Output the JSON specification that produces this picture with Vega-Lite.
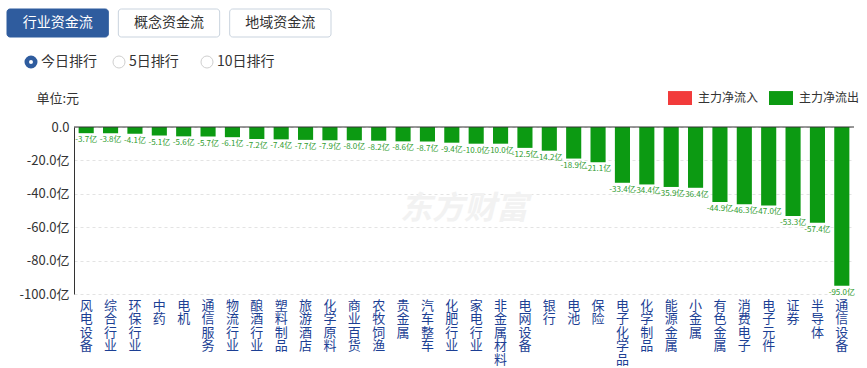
{
  "$schema": "https://vega.github.io/schema/vega-lite/v6.json",
  "padding": {"left": 6, "top": 8, "right": 0, "bottom": 0},
  "background": "#ffffff",
  "config": {
    "view": {"stroke": null},
    "font": "Noto Sans CJK SC",
    "axisY": {"labelOverlap": false}
  },
  "spacing": 10,
  "resolve": {"legend": {"color": "independent"}, "scale": {"color": "independent", "x": "independent", "y": "independent"}},
  "vconcat": [
    {
      "width": 324,
      "height": 28,
      "data": {"values": [{"b": "行业资金流"}, {"b": "概念资金流"}, {"b": "地域资金流"}]},
      "layer": [
        {
          "mark": {"type": "bar", "cornerRadius": 3, "strokeWidth": 1, "xOffset": -67, "x2Offset": -67},
          "encoding": {
            "x": {"field": "b", "type": "nominal", "sort": null, "axis": null, "scale": {"paddingInner": 0.09, "paddingOuter": 0}},
            "fill": {"condition": {"test": "datum.b === '行业资金流'", "value": "#2f5c9e"}, "value": "#ffffff"},
            "stroke": {"condition": {"test": "datum.b === '行业资金流'", "value": "#2f5c9e"}, "value": "#c9d3de"}
          }
        },
        {
          "mark": {"type": "text", "fontSize": 14, "baseline": "middle", "xOffset": -67},
          "encoding": {
            "x": {"field": "b", "type": "nominal", "sort": null, "axis": null},
            "text": {"field": "b"},
            "color": {"condition": {"test": "datum.b === '行业资金流'", "value": "#ffffff"}, "value": "#333333"}
          }
        }
      ]
    },
    {
      "width": 264,
      "height": 24,
      "data": {"values": [{"r": "今日排行"}, {"r": "5日排行"}, {"r": "10日排行"}]},
      "layer": [
        {
          "mark": {"type": "point", "shape": "circle", "filled": false, "fill": "#ffffff", "xOffset": -87},
          "encoding": {
            "x": {"field": "r", "type": "nominal", "sort": null, "axis": null, "scale": {"paddingInner": 0, "paddingOuter": 0}},
            "stroke": {"condition": {"test": "datum.r === '今日排行'", "value": "#2f5c9e"}, "value": "#cfcfcf"},
            "strokeWidth": {"condition": {"test": "datum.r === '今日排行'", "value": 4.5}, "value": 1},
            "size": {"condition": {"test": "datum.r === '今日排行'", "value": 72}, "value": 144},
            "opacity": {"value": 1}
          }
        },
        {
          "mark": {"type": "text", "fontSize": 14, "align": "left", "baseline": "middle", "xOffset": -77, "color": "#333333"},
          "encoding": {
            "x": {"field": "r", "type": "nominal", "sort": null, "axis": null},
            "text": {"field": "r"}
          }
        }
      ]
    },
    {
      "width": 780,
      "height": 167,
      "data": {
        "values": [
          {"name": "风电设备", "v": -3.7, "type": "主力净流出"},
          {"name": "综合行业", "v": -3.8, "type": "主力净流出"},
          {"name": "环保行业", "v": -4.1, "type": "主力净流出"},
          {"name": "中药", "v": -5.1, "type": "主力净流出"},
          {"name": "电机", "v": -5.6, "type": "主力净流出"},
          {"name": "通信服务", "v": -5.7, "type": "主力净流出"},
          {"name": "物流行业", "v": -6.1, "type": "主力净流出"},
          {"name": "酿酒行业", "v": -7.2, "type": "主力净流出"},
          {"name": "塑料制品", "v": -7.4, "type": "主力净流出"},
          {"name": "旅游酒店", "v": -7.7, "type": "主力净流出"},
          {"name": "化学原料", "v": -7.9, "type": "主力净流出"},
          {"name": "商业百货", "v": -8.0, "type": "主力净流出"},
          {"name": "农牧饲渔", "v": -8.2, "type": "主力净流出"},
          {"name": "贵金属", "v": -8.6, "type": "主力净流出"},
          {"name": "汽车整车", "v": -8.7, "type": "主力净流出"},
          {"name": "化肥行业", "v": -9.4, "type": "主力净流出"},
          {"name": "家电行业", "v": -10.0, "type": "主力净流出"},
          {"name": "非金属材料", "v": -10.0, "type": "主力净流出"},
          {"name": "电网设备", "v": -12.5, "type": "主力净流出"},
          {"name": "银行", "v": -14.2, "type": "主力净流出"},
          {"name": "电池", "v": -18.9, "type": "主力净流出"},
          {"name": "保险", "v": -21.1, "type": "主力净流出"},
          {"name": "电子化学品", "v": -33.4, "type": "主力净流出"},
          {"name": "化学制品", "v": -34.4, "type": "主力净流出"},
          {"name": "能源金属", "v": -35.9, "type": "主力净流出"},
          {"name": "小金属", "v": -36.4, "type": "主力净流出"},
          {"name": "有色金属", "v": -44.9, "type": "主力净流出"},
          {"name": "消费电子", "v": -46.3, "type": "主力净流出"},
          {"name": "电子元件", "v": -47.0, "type": "主力净流出"},
          {"name": "证券", "v": -53.3, "type": "主力净流出"},
          {"name": "半导体", "v": -57.4, "type": "主力净流出"},
          {"name": "通信设备", "v": -95.0, "type": "主力净流出"}
        ]
      },
      "layer": [
        {
          "data": {"values": [{}]},
          "mark": {"type": "text", "text": "东方财富", "fontSize": 32, "fontWeight": "bold", "fontStyle": "italic", "color": "#f2f2f2", "baseline": "top"},
          "encoding": {
            "y": {"datum": -40}
          }
        },
        {
          "mark": {"type": "bar"},
          "encoding": {
            "x": {
              "field": "name", "type": "nominal", "sort": null,
              "scale": {"paddingInner": 0.38, "paddingOuter": 0.19},
              "axis": {
                "title": null, "domain": false, "ticks": false, "labelAngle": 0,
                "labelExpr": "split(datum.label, '')",
                "labelBaseline": "top", "labelPadding": 5, "labelFontSize": 13, "labelLineHeight": 13.5,
                "labelColor": "#1c3f94", "labelFont": "Noto Sans CJK SC", "labelOverlap": false, "labelLimit": 0
              }
            },
            "y": {
              "field": "v", "type": "quantitative",
              "scale": {"domain": [-100, 0], "nice": false},
              "axis": {
                "tickCount": 5,
                "labelExpr": "datum.value == 0 ? '0.0' : '-' + format(-datum.value, '.1f') + '亿'",
                "labelOverlap": false,
                "title": "单位:元", "titleAngle": 0, "titleAlign": "left", "titleBaseline": "middle",
                "titleX": -38, "titleY": -29, "titleFontSize": 13, "titleFontWeight": "normal", "titleColor": "#333333",
                "labelFontSize": 13, "labelColor": "#333333", "labelPadding": 5,
                "ticks": false, "domain": true, "domainColor": "#333333",
                "grid": true, "gridDash": [3, 3], "gridColor": "#e3e3e3"
              }
            },
            "color": {
              "field": "type", "type": "nominal",
              "scale": {"domain": ["主力净流入", "主力净流出"], "range": ["#f23b3b", "#0c9a12"]},
              "legend": {
                "title": null, "orient": "none", "direction": "horizontal", "legendX": 594, "legendY": -41,
                "symbolType": "M-1,-0.58H1V0.58H-1Z", "symbolSize": 576, "symbolStrokeWidth": 0, "symbolOpacity": 1,
                "labelFontSize": 12, "labelColor": "#333333", "labelOffset": 6, "columnPadding": 10
              }
            }
          }
        },
        {
          "mark": {"type": "text", "fontSize": 8, "baseline": "top", "dy": 3, "color": "#2e9b2e", "text": {"expr": "'-' + format(-datum.v, '.1f') + '亿'"}},
          "encoding": {
            "x": {"field": "name", "type": "nominal", "sort": null},
            "y": {"field": "v", "type": "quantitative"}
          }
        },
        {
          "data": {"values": [{}]},
          "mark": {"type": "rule", "color": "#333333", "strokeWidth": 1},
          "encoding": {"y": {"datum": 0}}
        }
      ]
    }
  ]
}
